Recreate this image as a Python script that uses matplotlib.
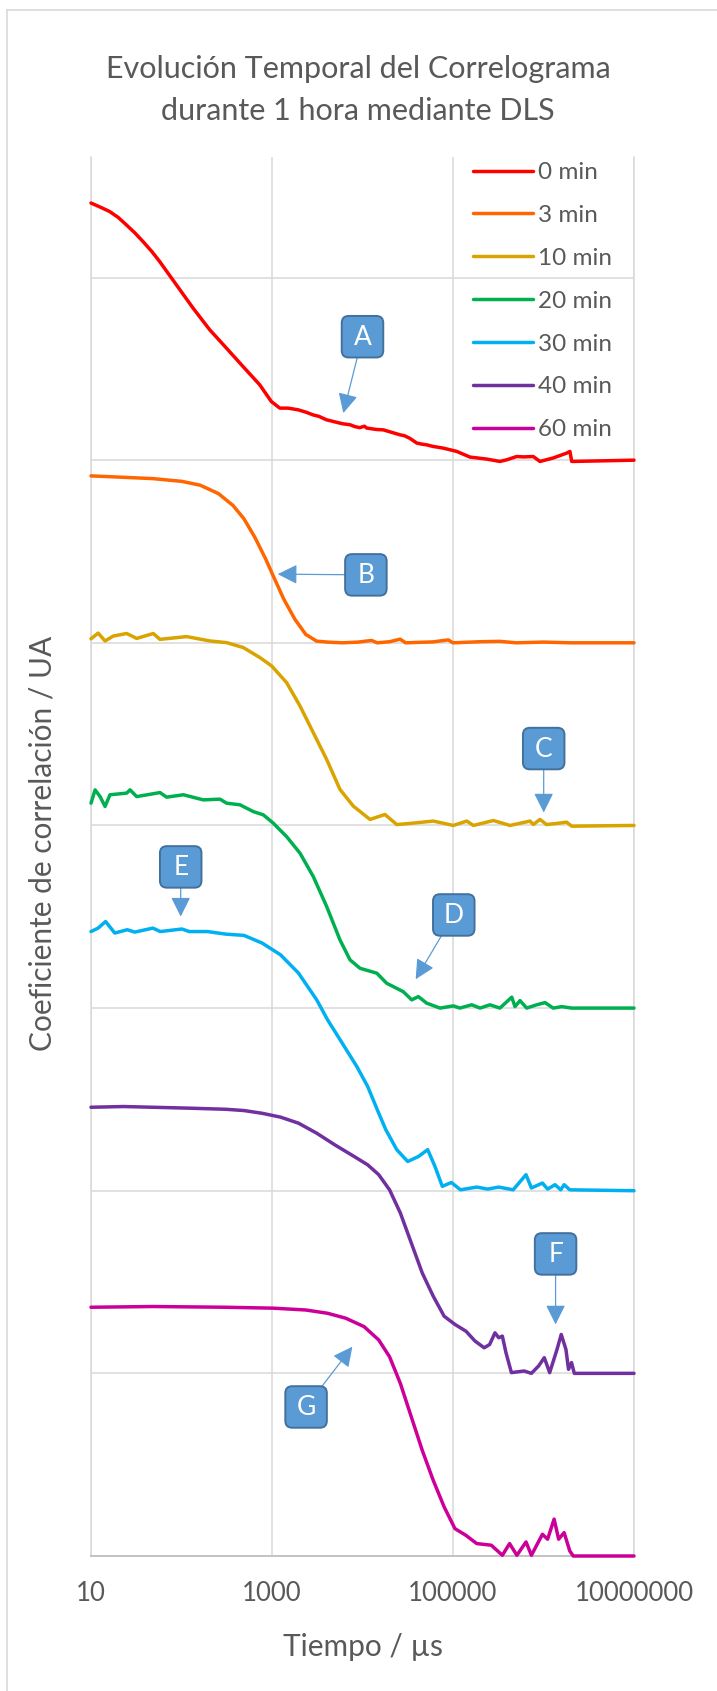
import matplotlib
matplotlib.use("Agg")
import matplotlib.pyplot as plt
from matplotlib.lines import Line2D
from matplotlib.patches import FancyBboxPatch
from matplotlib.text import Text
from matplotlib.offsetbox import DrawingArea, AnnotationBbox
from matplotlib.ticker import NullLocator

plt.rcParams['font.family'] = ['Lato', 'DejaVu Sans']

# ---------------- data ----------------
labels = ["0 min", "3 min", "10 min", "20 min", "30 min", "40 min", "60 min"]
colors = ["#FF0000", "#FF6600", "#D9A300", "#00B050", "#00B0F0", "#7030A0", "#CC0099"]
offsets = [6, 5, 4, 3, 2, 1, 0]

t_0 = [10, 12.6, 16, 20.0, 24.5, 30.6, 37.4, 46.9, 57.3, 87.5, 134, 205, 313, 478,
       731, 984, 1220, 1500, 1940, 2400, 2840, 3300, 4000, 4750,
       5300, 6100, 7280, 8200, 9330, 10500, 11100, 14300, 17000, 21800,
       25900, 29000, 33300, 39700, 45000, 51100, 60500, 70000, 78000, 92700,
       110000, 154000, 236000, 330000, 392000, 505000, 600000, 771000, 914000, 1280000,
       1810000, 1960000, 2050000, 1e7]
g_0 = [1.408, 1.386, 1.362, 1.329, 1.289, 1.244, 1.198, 1.143, 1.088, 0.961, 0.833, 0.714, 0.614, 0.513,
       0.413, 0.321, 0.285, 0.285, 0.276, 0.262, 0.248, 0.240, 0.221, 0.212,
       0.206, 0.199, 0.194, 0.184, 0.178, 0.186, 0.176, 0.168, 0.166, 0.150,
       0.139, 0.134, 0.120, 0.094, 0.088, 0.084, 0.075, 0.070, 0.066, 0.057,
       0.048, 0.017, 0.006, -0.007, 0.002, 0.020, 0.018, 0.020, -0.007, 0.012,
       0.039, 0.048, -0.007, 0.0]

t_3 = [10, 19.1, 48.3, 101, 161, 256, 371, 490, 646, 851,
       1030, 1350, 1790, 2360, 3120, 4110, 6000, 9000, 12600, 14500,
       20000, 26000, 30000, 60000, 88700, 100000, 200000, 330000, 500000, 1000000,
       2000000, 1e7]
g_3 = [0.914, 0.908, 0.899, 0.884, 0.863, 0.817, 0.752, 0.679, 0.578, 0.459,
       0.367, 0.239, 0.129, 0.046, 0.009, 0.004, 0.0, 0.004, 0.013, 0.0,
       0.006, 0.020, 0.0, 0.005, 0.016, 0.0, 0.006, 0.008, 0.0, 0.004,
       0.0, 0.0]

t_10 = [10, 12.0, 14.3, 17.6, 24.8, 32.0, 48.8, 57.8, 114, 207,
        315, 482, 736, 993, 1450, 2040, 2860, 4020, 5640, 7910,
        12100, 17700, 23900, 33500, 60500, 101000, 142000, 168000, 279000, 427000,
        710000, 771000, 914000, 1080000, 1400000, 1800000, 2050000, 1e7]
g_10 = [1.022, 1.053, 1.010, 1.037, 1.051, 1.024, 1.051, 1.019, 1.034, 1.010,
        1.001, 0.974, 0.919, 0.873, 0.782, 0.654, 0.508, 0.361, 0.197, 0.106,
        0.033, 0.060, 0.005, 0.011, 0.024, 0.0, 0.024, 0.0, 0.027, 0.0,
        0.024, 0.005, 0.033, 0.005, 0.011, 0.018, -0.004, 0.0]

t_20 = [10, 11.1, 12.6, 14.3, 16.2, 24.8, 27.0, 32.0, 57.8, 68.5,
        105, 174, 266, 315, 443, 621, 802, 1030, 1450, 2040,
        2860, 4020, 5640, 7280, 9380, 14400, 18500, 28200, 35000, 41400,
        51200, 71800, 101000, 119000, 161000, 199000, 256000, 330000, 446000, 484000,
        550000, 652000, 841000, 1040000, 1280000, 1590000, 2050000, 1e7]
g_20 = [1.122, 1.195, 1.158, 1.104, 1.168, 1.177, 1.195, 1.158, 1.180, 1.155,
        1.168, 1.140, 1.144, 1.122, 1.113, 1.076, 1.058, 1.013, 0.939, 0.848,
        0.720, 0.556, 0.373, 0.264, 0.218, 0.191, 0.136, 0.090, 0.045, 0.063,
        0.027, 0.0, 0.012, 0.0, 0.018, 0.0, 0.018, 0.0, 0.060, 0.008,
        0.041, 0.0, 0.018, 0.030, 0.0, 0.008, 0.0, 0.0]

t_30 = [10, 12.0, 14.5, 18.3, 25.2, 30.4, 48.3, 58.2, 101, 122,
        194, 308, 490, 778, 1240, 1960, 3120, 4110, 5970, 8630,
        11400, 15100, 18100, 23900, 31600, 41700, 52500, 63200, 76200, 95900,
        121000, 183000, 242000, 320000, 462000, 641000, 735000, 973000, 1110000, 1340000,
        1550000, 1690000, 1950000, 1e7]
g_30 = [1.419, 1.438, 1.474, 1.411, 1.429, 1.416, 1.438, 1.419, 1.433, 1.419,
        1.419, 1.405, 1.398, 1.356, 1.292, 1.192, 1.045, 0.936, 0.808, 0.681,
        0.571, 0.425, 0.334, 0.225, 0.160, 0.188, 0.225, 0.133, 0.024, 0.045,
        0.005, 0.020, 0.009, 0.020, 0.005, 0.088, 0.015, 0.042, 0.009, 0.033,
        0.005, 0.033, 0.005, 0.0]

t_40 = [10, 23.0, 48.3, 122, 308, 490, 778, 1240, 1960, 3120,
        4950, 7870, 11400, 15100, 19900, 26200, 34600, 45700, 60400, 79800,
        105000, 139000, 175000, 221000, 254000, 291000, 320000, 351000, 385000, 442000,
        612000, 735000, 885000, 1020000, 1170000, 1410000, 1570000, 1770000, 1890000, 2040000,
        2190000, 1e7]
g_40 = [1.457, 1.461, 1.457, 1.452, 1.446, 1.439, 1.424, 1.403, 1.370, 1.315,
        1.251, 1.191, 1.142, 1.088, 1.005, 0.878, 0.714, 0.550, 0.423, 0.313,
        0.268, 0.231, 0.177, 0.140, 0.158, 0.222, 0.195, 0.204, 0.113, 0.004,
        0.013, 0.0, 0.041, 0.086, 0.004, 0.131, 0.213, 0.131, 0.022, 0.059,
        0.0, 0.0]

t_60 = [10, 48.3, 308, 1030, 2360, 4110, 6530, 10400, 15100, 19900,
        26200, 34600, 45700, 60400, 79800, 105000, 139000, 183000, 265000, 351000,
        422000, 508000, 641000, 735000, 973000, 1110000, 1310000, 1470000, 1690000, 1950000,
        2130000, 1e7]
g_60 = [1.362, 1.366, 1.362, 1.357, 1.347, 1.329, 1.302, 1.256, 1.183, 1.091,
        0.945, 0.762, 0.579, 0.415, 0.269, 0.150, 0.113, 0.068, 0.059, 0.004,
        0.068, 0.004, 0.077, 0.004, 0.119, 0.092, 0.202, 0.092, 0.128, 0.028,
        0.0, 0.0]

times = [t_0, t_3, t_10, t_20, t_30, t_40, t_60]
values = [g_0, g_3, g_10, g_20, g_30, g_40, g_60]

x_ticks = [10, 1000, 100000, 10000000]
x_tick_labels = ["10", "1000", "100000", "10000000"]

title = "Evolución Temporal del Correlograma\ndurante 1 hora mediante DLS"
x_label = "Tiempo / µs"
y_label = "Coeficiente de correlación / UA"

# callouts: letter, box centre (time, y), arrow tip (time, y)
callouts = [
    ("A", (1.0e4, 6.676), (6140, 6.258)),
    ("B", (1.09e4, 5.372), (1156, 5.376)),
    ("C", (1.005e6, 4.421), (1.005e6, 4.071)),
    ("D", (1.02e5, 3.510), (38700, 3.158)),
    ("E", (98, 3.773), (98, 3.501)),
    ("F", (1.36e6, 1.654), (1.36e6, 1.268)),
    ("G", (2380, 0.816), (7730, 1.146)),
]

# ---------------- figure ----------------
W, H, DPI = 717, 1691, 100
fig = plt.figure(figsize=(W / DPI, H / DPI), dpi=DPI)
fig.patch.set_facecolor("white")

x0, x1, y0, y1 = 91, 634, 157, 1556
ax = fig.add_axes([x0 / W, 1 - y1 / H, (x1 - x0) / W, (y1 - y0) / H])

grid_c = "#D9D9D9"
text_c = "#595959"

for t, g, off, c, lab in zip(times, values, offsets, colors, labels):
    ax.plot(t, [v + off for v in g], color=c, lw=2.5, label=lab,
            solid_joinstyle="round", solid_capstyle="round", zorder=3, clip_on=False)

ax.set_xscale("log")
ax.set_xlim(10, 1e7)
ax.set_ylim(0, 7.66)
ax.set_xticks(x_ticks)
ax.set_xticklabels(x_tick_labels)
ax.xaxis.set_minor_locator(NullLocator())
ax.set_yticks(range(0, 8))
ax.set_yticklabels([])
ax.tick_params(axis="both", length=0)
ax.tick_params(axis="x", labelsize=18.5, labelcolor=text_c, pad=18)
ax.grid(True, color=grid_c, lw=1.1, zorder=0)
ax.set_axisbelow(True)
for side in ("left", "right"):
    ax.spines[side].set_color(grid_c)
    ax.spines[side].set_linewidth(1.1)
ax.spines["top"].set_visible(False)
ax.spines["bottom"].set_color("#BFBFBF")
ax.spines["bottom"].set_linewidth(1.3)

ax.set_xlabel(x_label, fontsize=21.5, color=text_c, va="center")
ax.xaxis.set_label_coords(0.5, (y1 - 1647) / (y1 - y0))
ax.set_ylabel(y_label, fontsize=21.5, color=text_c, va="center", ha="center")
ax.yaxis.set_label_coords((43 - x0) / (x1 - x0), (y1 - 843) / (y1 - y0))

fig.text(358 / W, 1 - 90 / H, title, ha="center", va="center", fontsize=22,
         color=text_c, linespacing=1.62)

leg = ax.legend(loc="upper left", bbox_to_anchor=(472.7 / W, 1 - 162 / H),
                bbox_transform=fig.transFigure, frameon=False, fontsize=17.5,
                handlelength=2.5, handletextpad=0.2, labelspacing=0.9,
                borderpad=0, borderaxespad=0)
for txt in leg.get_texts():
    txt.set_color(text_c)
for ln in leg.get_lines():
    ln.set_linewidth(2.5)

# callout boxes with arrows
box_fc, box_ec = "#5B9BD5", "#41719C"
bsz = 31.5
for letter, centre, tip in callouts:
    ax.annotate("", xy=tip, xytext=centre,
                arrowprops=dict(arrowstyle="-|>,head_length=0.8,head_width=0.4",
                                color=box_fc, lw=0.9, shrinkA=0, shrinkB=0,
                                mutation_scale=15), zorder=6)
    da = DrawingArea(bsz, bsz, 0, 0, clip=False)
    da.add_artist(FancyBboxPatch((0.8, 0.8), bsz - 1.6, bsz - 1.6,
                                 boxstyle="round,pad=0,rounding_size=5",
                                 fc=box_fc, ec=box_ec, lw=1.4))
    da.add_artist(Text(bsz / 2, bsz / 2 - 0.5, letter, ha="center", va="center",
                       color="white", fontsize=19, family=["Lato", "DejaVu Sans"]))
    ab = AnnotationBbox(da, centre, xycoords="data", frameon=False,
                        box_alignment=(0.5, 0.5), pad=0, zorder=7)
    ax.add_artist(ab)

# chart area border
fig.add_artist(Line2D([7 / W, 7 / W], [0, 1 - 10 / H], transform=fig.transFigure,
                      color=grid_c, lw=1.2))
fig.add_artist(Line2D([7 / W, 1], [1 - 10 / H, 1 - 10 / H], transform=fig.transFigure,
                      color=grid_c, lw=1.2))

fig.savefig("out.png", dpi=DPI, facecolor="white")
